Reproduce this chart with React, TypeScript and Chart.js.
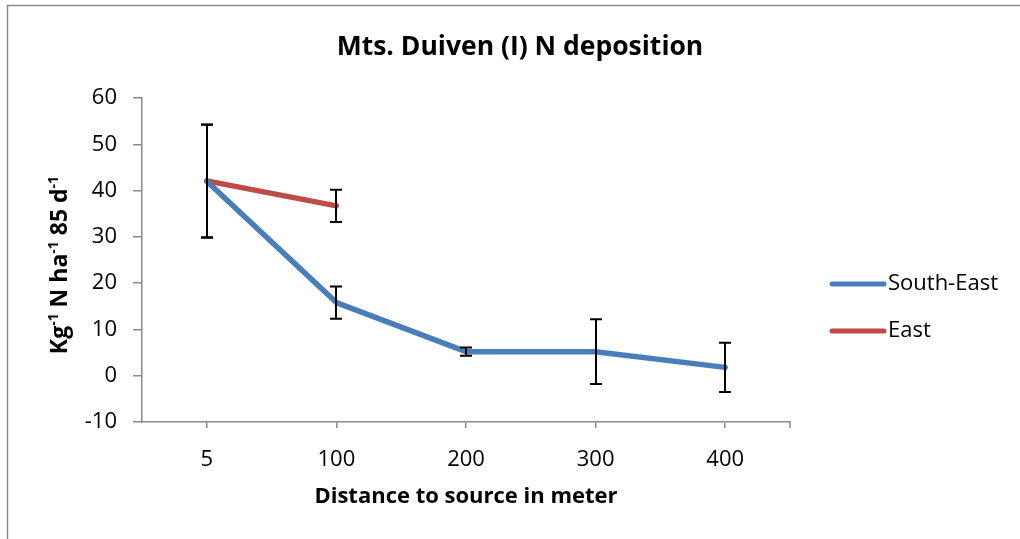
import React, { useEffect, useRef } from "react";
import { Chart, registerables } from "chart.js";
Chart.register(...registerables);

const categories = ["5", "100", "200", "300", "400"];
const southEast = [42.0, 15.8, 5.2, 5.2, 1.8];
const southEastErr = [12.2, 3.5, 0.9, 7.0, 5.3];
const east = [42.1, 36.7, null, null, null];
const eastErr = [12.2, 3.5, null, null, null];
const yTicks = [-10, 0, 10, 20, 30, 40, 50, 60];
const seriesNames = ["South-East", "East"];
const seriesColors = ["#4A7EBB", "#BE4B48"];
const titleText = "Mts. Duiven (I) N deposition";
const xTitleText = "Distance to source in meter";
const yTitleParts: [string, boolean][] = [
  ["Kg", false],
  ["-1", true],
  [" N ha", false],
  ["-1", true],
  [" 85 d", false],
  ["-1", true],
];

const FONT = "'Open Sans', sans-serif";
const AXIS_COLOR = "#8a8a8a";

const decor = {
  id: "decor",
  afterDatasetsDraw(chart: any) {
    const ctx = chart.ctx;
    const xs = chart.scales.x;
    const ys = chart.scales.y;
    ctx.save();
    ctx.strokeStyle = "#000";
    ctx.lineWidth = 2;
    const errSets: [(number | null)[], (number | null)[]][] = [
      [southEast, southEastErr],
      [east, eastErr],
    ];
    errSets.forEach(([vals, errs]) => {
      vals.forEach((v, i) => {
        const e = errs[i];
        if (v == null || e == null) return;
        const x = Math.round(xs.getPixelForValue(i));
        const yt = ys.getPixelForValue(v + e);
        const yb = ys.getPixelForValue(v - e);
        ctx.beginPath();
        ctx.moveTo(x, yt);
        ctx.lineTo(x, yb);
        ctx.moveTo(x - 6, yt);
        ctx.lineTo(x + 6, yt);
        ctx.moveTo(x - 6, yb);
        ctx.lineTo(x + 6, yb);
        ctx.stroke();
      });
    });
    ctx.restore();
  },
  afterDraw(chart: any) {
    const ctx = chart.ctx;
    const ca = chart.chartArea;
    ctx.save();
    // outer frame
    ctx.strokeStyle = AXIS_COLOR;
    ctx.lineWidth = 1.5;
    ctx.beginPath();
    ctx.moveTo(7.5, 560);
    ctx.lineTo(7.5, 5.5);
    ctx.lineTo(1030, 5.5);
    ctx.stroke();

    // right-end tick on x axis
    ctx.lineWidth = 1.5;
    ctx.beginPath();
    ctx.moveTo(ca.right, ca.bottom);
    ctx.lineTo(ca.right, ca.bottom + 6);
    ctx.stroke();

    // title
    ctx.fillStyle = "#000";
    ctx.textAlign = "center";
    ctx.textBaseline = "middle";
    ctx.font = `bold 26.5px ${FONT}`;
    ctx.fillText(titleText, 520, 47);

    // x title
    ctx.font = `bold 22px ${FONT}`;
    ctx.fillText(xTitleText, (ca.left + ca.right) / 2, 497);

    // y title with superscripts
    const baseFont = `bold 23px ${FONT}`;
    const supFont = `bold 14px ${FONT}`;
    let total = 0;
    yTitleParts.forEach(([t, sup]) => {
      ctx.font = sup ? supFont : baseFont;
      total += ctx.measureText(t).width;
    });
    ctx.translate(67, 265);
    ctx.rotate(-Math.PI / 2);
    ctx.textAlign = "left";
    ctx.textBaseline = "alphabetic";
    let cx = -total / 2;
    yTitleParts.forEach(([t, sup]) => {
      ctx.font = sup ? supFont : baseFont;
      ctx.fillText(t, cx, sup ? -9 : 0);
      cx += ctx.measureText(t).width;
    });
    ctx.setTransform(1, 0, 0, 1, 0, 0);

    // legend
    const legY = [284, 331];
    seriesNames.forEach((name, i) => {
      ctx.strokeStyle = seriesColors[i];
      ctx.lineWidth = 5;
      ctx.lineCap = "round";
      ctx.beginPath();
      ctx.moveTo(832, legY[i]);
      ctx.lineTo(884, legY[i]);
      ctx.stroke();
      ctx.fillStyle = "#000";
      ctx.font = `22px ${FONT}`;
      ctx.textAlign = "left";
      ctx.textBaseline = "middle";
      ctx.fillText(name, 888, legY[i]);
    });
    ctx.restore();
  },
};

export default function App() {
  const ref = useRef<HTMLCanvasElement | null>(null);
  useEffect(() => {
    document.body.style.margin = "0";
    const canvas = ref.current!;
    const chart = new Chart(canvas, {
      type: "line",
      data: {
        labels: categories,
        datasets: [
          {
            label: seriesNames[0],
            data: southEast,
            borderColor: seriesColors[0],
            backgroundColor: seriesColors[0],
            borderWidth: 5.5,
            pointRadius: 0,
            borderCapStyle: "round",
            borderJoinStyle: "round",
            tension: 0,
          },
          {
            label: seriesNames[1],
            data: east,
            borderColor: seriesColors[1],
            backgroundColor: seriesColors[1],
            borderWidth: 5.5,
            pointRadius: 0,
            borderCapStyle: "round",
            borderJoinStyle: "round",
            tension: 0,
          },
        ],
      },
      options: {
        responsive: false,
        animation: false,
        layout: { padding: { top: 98, right: 230, left: 0, bottom: 0 } },
        plugins: {
          legend: { display: false },
          title: { display: false },
          tooltip: { enabled: false },
        },
        scales: {
          x: {
            type: "category",
            offset: true,
            grid: {
              offset: false,
              drawOnChartArea: false,
              drawTicks: true,
              tickLength: 6,
              color: AXIS_COLOR,
              lineWidth: 1.5,
            },
            border: { color: AXIS_COLOR, width: 1.5 },
            ticks: {
              color: "#000",
              font: { family: FONT, size: 22 },
              padding: 19,
              maxRotation: 0,
            },
            afterFit: (s: any) => {
              s.height = 117;
            },
          },
          y: {
            min: -10,
            max: 60,
            afterBuildTicks: (s: any) => {
              s.ticks = yTicks.map((v) => ({ value: v }));
            },
            grid: {
              drawOnChartArea: false,
              drawTicks: true,
              tickLength: 9,
              color: AXIS_COLOR,
              lineWidth: 1.5,
            },
            border: { color: AXIS_COLOR, width: 1.5 },
            ticks: {
              color: "#000",
              font: { family: FONT, size: 22 },
              padding: 16,
            },
            afterFit: (s: any) => {
              s.width = 142;
            },
          },
        },
      },
      plugins: [decor],
    });
    return () => chart.destroy();
  }, []);
  return (
    <canvas
      ref={ref}
      width={1020}
      height={539}
      style={{ display: "block", width: 1020, height: 539, background: "#fff" }}
    />
  );
}
